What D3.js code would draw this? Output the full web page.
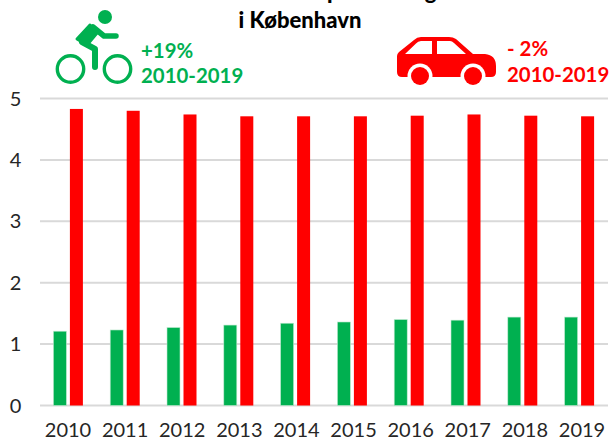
<!DOCTYPE html>
<html><head><meta charset="utf-8">
<script src="https://cdn.jsdelivr.net/npm/d3@7/dist/d3.min.js"></script>
<style>html,body{margin:0;background:#fff}svg{display:block}text{font-family:Lato,"Open Sans",sans-serif}</style>
</head><body><svg width="611" height="439"></svg>
<script>
const years=["2010","2011","2012","2013","2014","2015","2016","2017","2018","2019"];
const cycle=[1.21,1.23,1.27,1.31,1.34,1.36,1.40,1.39,1.44,1.44];
const car=[4.83,4.80,4.74,4.71,4.71,4.71,4.72,4.74,4.72,4.71];
const yTicks=[0,1,2,3,4,5];
const titleLines=["Mio. Personture pr. hverdag","i København"];
const cycleNote=["+19%","2010-2019"];
const carNote=["- 2%","2010-2019"];
const GREEN="#00b050",RED="#ff0000";
const svg=d3.select("svg");
const x=d3.scaleBand().domain(years).range([40,608]);
const xLabel=d3.scalePoint().domain(years).range([68,582]);
const y=d3.scaleLinear().domain([0,5]).range([405.5,98.5]);
const cx=d=>x(d)+x.bandwidth()/2;
svg.append("g").selectAll("line").data(yTicks).join("line")
 .attr("x1",40).attr("x2",608).attr("y1",d=>y(d)).attr("y2",d=>y(d))
 .attr("stroke","#d9d9d9").attr("stroke-width",2);
svg.append("g").selectAll("text").data(yTicks).join("text")
 .attr("x",15.5).attr("y",d=>y(d)+7).attr("text-anchor","middle").attr("font-size",20).attr("fill","#262626").text(d=>d);
svg.append("g").selectAll("text").data(years).join("text")
 .attr("x",d=>xLabel(d)).attr("y",437).attr("text-anchor","middle").attr("font-size",20).attr("fill","#262626").text(d=>d);
const bw=13;
svg.append("g").selectAll("rect").data(years).join("rect")
 .attr("x",d=>cx(d)-15).attr("width",bw).attr("y",(d,i)=>y(cycle[i])).attr("height",(d,i)=>y(0)-y(cycle[i]))
 .attr("fill",GREEN).attr("stroke","#bfe9cf").attr("stroke-width",.6);
svg.append("g").selectAll("rect").data(years).join("rect")
 .attr("x",d=>cx(d)+1.5).attr("width",bw).attr("y",(d,i)=>y(car[i])).attr("height",(d,i)=>y(0)-y(car[i]))
 .attr("fill",RED);
svg.append("g").selectAll("text").data(titleLines).join("text")
 .attr("x",300).attr("y",(d,i)=>i==0?-1:27.5).attr("text-anchor","middle").attr("font-size",22).attr("font-weight",900).attr("fill","#000").text(d=>d);
svg.append("g").selectAll("text").data(cycleNote).join("text")
 .attr("x",141).attr("y",(d,i)=>58+i*25).attr("font-size",20.4).attr("font-weight",700).attr("fill",GREEN).text(d=>d);
svg.append("g").selectAll("text").data(carNote).join("text")
 .attr("x",507).attr("y",(d,i)=>56+i*26).attr("font-size",20.4).attr("font-weight",700).attr("fill",RED).text(d=>d);
// cyclist icon
const b=svg.append("g");
[[70.5,69],[117.5,69]].forEach(c=>b.append("circle").attr("cx",c[0]).attr("cy",c[1]).attr("r",13.2).attr("fill","none").attr("stroke",GREEN).attr("stroke-width",3.4));
b.append("circle").attr("cx",105).attr("cy",17).attr("r",7).attr("fill",GREEN);
b.append("path").attr("d","M82 42L95 49V67").attr("fill","none").attr("stroke",GREEN).attr("stroke-width",6).attr("stroke-linecap","round").attr("stroke-linejoin","round");
b.append("path").attr("d","M90 25L77 39L87 45L97 33Z").attr("fill",GREEN).attr("stroke",GREEN).attr("stroke-width",3).attr("stroke-linejoin","round");
b.append("path").attr("d","M93 27L104 36H116").attr("fill","none").attr("stroke",GREEN).attr("stroke-width",5.5).attr("stroke-linecap","round").attr("stroke-linejoin","round");
// car icon
const c=svg.append("g");
c.append("path").attr("d","M397 56Q397 54 399 52L414 40Q417 37 421 37H449Q453 37 456 39L473 54H485Q496 55 496 66V72Q496 77 491 77H402Q397 77 397 72Z").attr("fill",RED);
c.append("path").attr("d","M405 54L416 43.5Q418 41 421 41H432V54Z M437 41H450Q452 41 454 43L466 54H437Z").attr("fill","#fff");
[[420,76],[473,76]].forEach(p=>{c.append("circle").attr("cx",p[0]).attr("cy",p[1]).attr("r",12.5).attr("fill","#fff");c.append("circle").attr("cx",p[0]).attr("cy",p[1]).attr("r",9).attr("fill",RED);});
</script></body></html>
